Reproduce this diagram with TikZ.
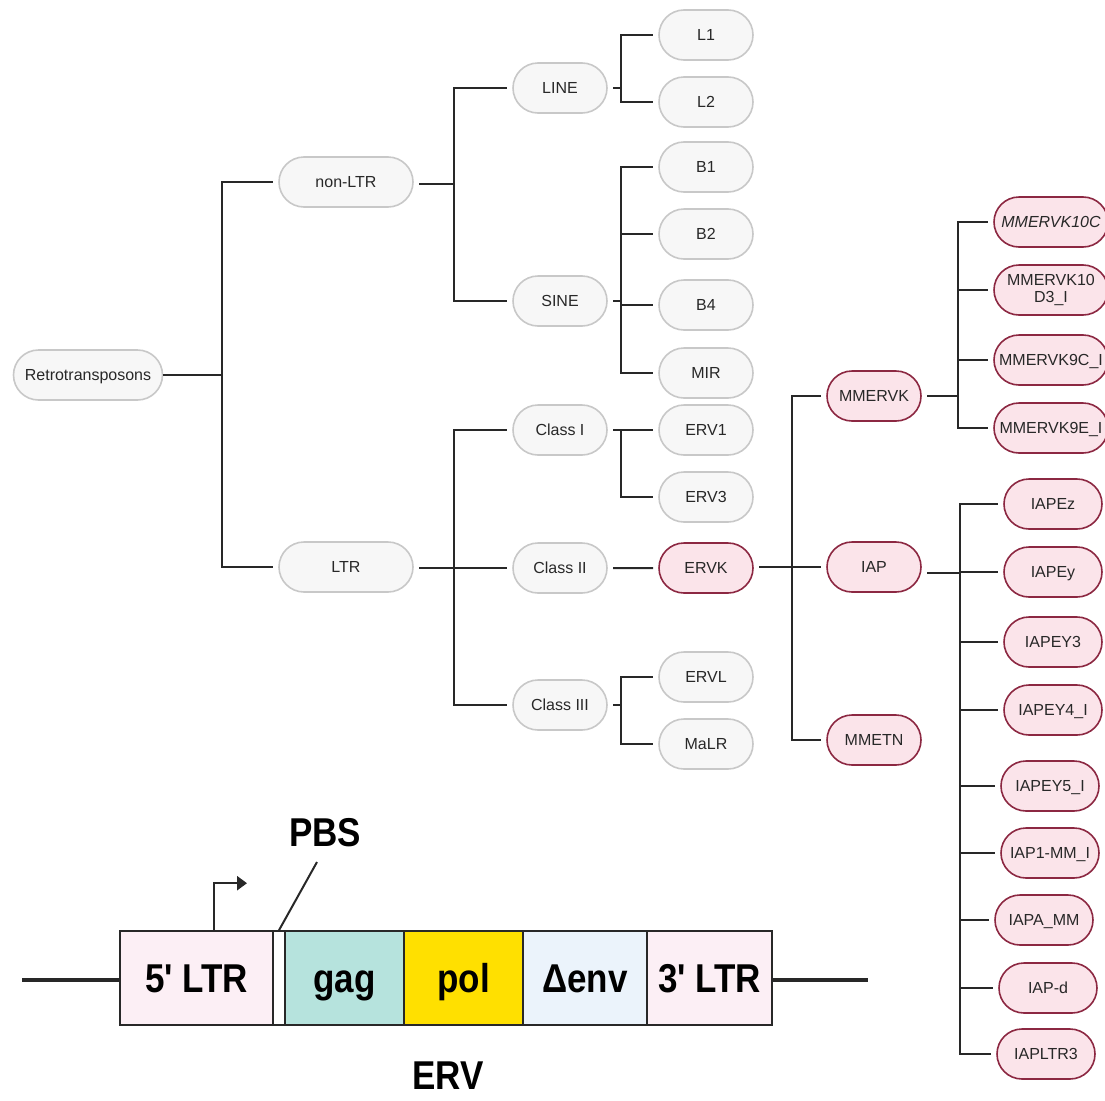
\documentclass[tikz,border=0pt]{standalone}
\usepackage{fontspec}
\setmainfont{Liberation Sans}
\usetikzlibrary{arrows.meta,positioning,shapes.misc,calc}
\definecolor{ervInk}{RGB}{40,40,40}
\definecolor{ervGrey}{RGB}{200,200,200}
\definecolor{ervPale}{RGB}{247,247,247}
\definecolor{ervWine}{RGB}{140,40,66}
\definecolor{ervRose}{RGB}{251,228,234}
\definecolor{ervLtr}{RGB}{252,239,245}
\definecolor{ervGag}{RGB}{182,227,221}
\definecolor{ervPol}{RGB}{255,224,0}
\definecolor{ervEnv}{RGB}{235,243,251}
\newcommand{\tallbf}[1]{\scalebox{1}[1.15]{#1}}

\begin{document}
\begin{tikzpicture}[x=1pt,y=-1pt,
      pill/.style={rounded rectangle,draw=ervGrey,line width=1.6pt,fill=ervPale,text=ervInk,minimum width=100pt,minimum height=50pt,inner xsep=3pt,outer sep=6pt,align=center,font=\fontsize{16}{17}\selectfont},
      fam/.style={pill,text height=11.5pt,text depth=0pt},
      wide/.style={minimum width=140pt},
      hot/.style={draw=ervWine,fill=ervRose},
      leaf/.style={fam,hot,minimum width=100pt,inner xsep=1pt},
      conn/.style={line width=2pt,draw=ervInk},
      block/.style={draw=ervInk,line width=1.6pt,minimum height=94pt,inner sep=0pt,text height=30pt,text depth=2pt,font=\fontsize{35}{36}\selectfont\bfseries,text=black},
      lbl/.style={inner sep=0pt,font=\fontsize{35}{36}\selectfont\bfseries,text=black}
    ]
    \useasboundingbox (0,0) rectangle (1105,1100);

    \node[fam,minimum width=155pt,outer sep=0pt] (root) at (88,375) {Retrotransposons};
    \node[fam,wide] (nonltr) at (346,182) {non-LTR};
    \node[fam,wide] (ltr)    at (346,567) {LTR};

    \node[fam] (line)   at (560,88)  {LINE};
    \node[fam] (sine)   at (560,301) {SINE};
    \node[fam] (cls1)   at (560,430) {Class I};
    \node[fam] (cls2)   at (560,568) {Class II};
    \node[fam] (cls3)   at (560,705) {Class III};

    \node[fam] (l1)   at (706,35)  {L1};
    \node[fam] (l2)   at (706,102) {L2};
    \node[fam] (b1)   at (706,167) {B1};
    \node[fam] (b2)   at (706,234) {B2};
    \node[fam] (b4)   at (706,305) {B4};
    \node[fam] (mir)  at (706,373) {MIR};
    \node[fam] (erv1) at (706,430) {ERV1};
    \node[fam] (erv3) at (706,497) {ERV3};
    \node[fam,hot] (ervk) at (706,568) {ERVK};
    \node[fam] (ervl) at (706,677) {ERVL};
    \node[fam] (malr) at (706,744) {MaLR};

    \node[fam,hot] (mmervk) at (874,396) {MMERVK};
    \node[fam,hot] (iap)    at (874,567) {IAP};
    \node[fam,hot] (mmetn)  at (874,740) {MMETN};

    \node[leaf,minimum width=116pt] (k10c) at (1051,222) {\itshape MMERVK10C};
    \node[pill,hot,inner xsep=1pt,minimum width=116pt] (k10d) at (1051,290) {MMERVK10\\D3\_I};
    \node[leaf,minimum width=116pt] (k9c)  at (1051,360) {MMERVK9C\_I};
    \node[leaf,minimum width=116pt] (k9e)  at (1051,428) {MMERVK9E\_I};

    \node[leaf] (iapez) at (1053,504)  {IAPEz};
    \node[leaf] (iapey) at (1053,572)  {IAPEy};
    \node[leaf] (iapy3) at (1053,642)  {IAPEY3};
    \node[leaf] (iapy4) at (1053,710)  {IAPEY4\_I};
    \node[leaf] (iapy5) at (1050,786)  {IAPEY5\_I};
    \node[leaf] (iap1)  at (1050,853)  {IAP1-MM\_I};
    \node[leaf] (iapa)  at (1044,920)  {IAPA\_MM};
    \node[leaf] (iapd)  at (1048,988)  {IAP-d};
    \node[leaf] (iapl3) at (1046,1054) {IAPLTR3};

    \coordinate (jroot) at (222,375);
    \coordinate (jnon)  at (454,184);
    \coordinate (jltr)  at (454,568);
    \coordinate (jline) at (621,88);
    \coordinate (jsine) at (621,301);
    \coordinate (jc1)   at (621,430);
    \coordinate (jc3)   at (621,705);
    \coordinate (jervk) at (792,567);
    \coordinate (jmmk)  at (958,396);
    \coordinate (jiap)  at (960,573);

    \draw[conn] (root.east) -- (jroot);
    \foreach \c in {nonltr,ltr} \draw[conn] (jroot) |- (\c.west);
    \draw[conn] (nonltr.east|-jnon) -- (jnon);
    \foreach \c in {line,sine} \draw[conn] (jnon) |- (\c.west);
    \draw[conn] (ltr.east|-jltr) -- (jltr);
    \foreach \c in {cls1,cls2,cls3} \draw[conn] (jltr) |- (\c.west);
    \draw[conn] (line.east) -- (jline);
    \foreach \c in {l1,l2} \draw[conn] (jline) |- (\c.west);
    \draw[conn] (sine.east) -- (jsine);
    \foreach \c in {b1,b2,b4,mir} \draw[conn] (jsine) |- (\c.west);
    \draw[conn] (cls1.east) -- (jc1);
    \foreach \c in {erv1,erv3} \draw[conn] (jc1) |- (\c.west);
    \draw[conn] (cls2) -- (ervk);
    \draw[conn] (cls3.east) -- (jc3);
    \foreach \c in {ervl,malr} \draw[conn] (jc3) |- (\c.west);
    \draw[conn] (ervk.east|-jervk) -- (jervk);
    \foreach \c in {mmervk,iap,mmetn} \draw[conn] (jervk) |- (\c.west);
    \draw[conn] (mmervk.east) -- (jmmk);
    \foreach \c in {k10c,k10d,k9c,k9e} \draw[conn] (jmmk) |- (\c.west);
    \draw[conn] (iap.east|-jiap) -- (jiap);
    \foreach \c in {iapez,iapey,iapy3,iapy4,iapy5,iap1,iapa,iapd,iapl3} \draw[conn] (jiap) |- (\c.west);

    \node[block,fill=ervLtr,minimum width=153pt] (ltr5) at (196.5,978) {\tallbf{5\textquotesingle{} LTR}};
    \node[block,fill=white,minimum width=12pt] (pbs) at (279,978) {};
    \node[block,fill=ervGag,minimum width=119pt] (gag) at (344.5,978) {\tallbf{gag}};
    \node[block,fill=ervPol,minimum width=119pt] (pol) at (463.5,978) {\tallbf{pol}};
    \node[block,fill=ervEnv,minimum width=124pt] (env) at (585,978) {\tallbf{Δenv}};
    \node[block,fill=ervLtr,minimum width=125pt] (ltr3) at (709.5,978) {\tallbf{3\textquotesingle{} LTR}};

    \coordinate (dnaL) at (22,980);
    \coordinate (dnaR) at (868,980);
    \coordinate (pbsTip) at (317,862);
    \draw[line width=3.5pt,draw=ervInk] (dnaL) -- (ltr5.west|-dnaL);
    \draw[line width=3.5pt,draw=ervInk] (ltr3.east|-dnaR) -- (dnaR);
    \draw[line width=2.5pt,draw=ervInk,-{Triangle[length=10pt,width=14pt]}]
      ([xshift=17.5pt]ltr5.north) -- ++(0,-47) -- ++(33,0);
    \draw[line width=2pt,draw=ervInk] (pbs.north) -- (pbsTip);

    \node[lbl] (pbslbl) at (325,833) {\tallbf{PBS}};
    \node[lbl] (ervlbl) at (448,1076) {\tallbf{ERV}};
  \end{tikzpicture}
\end{document}
